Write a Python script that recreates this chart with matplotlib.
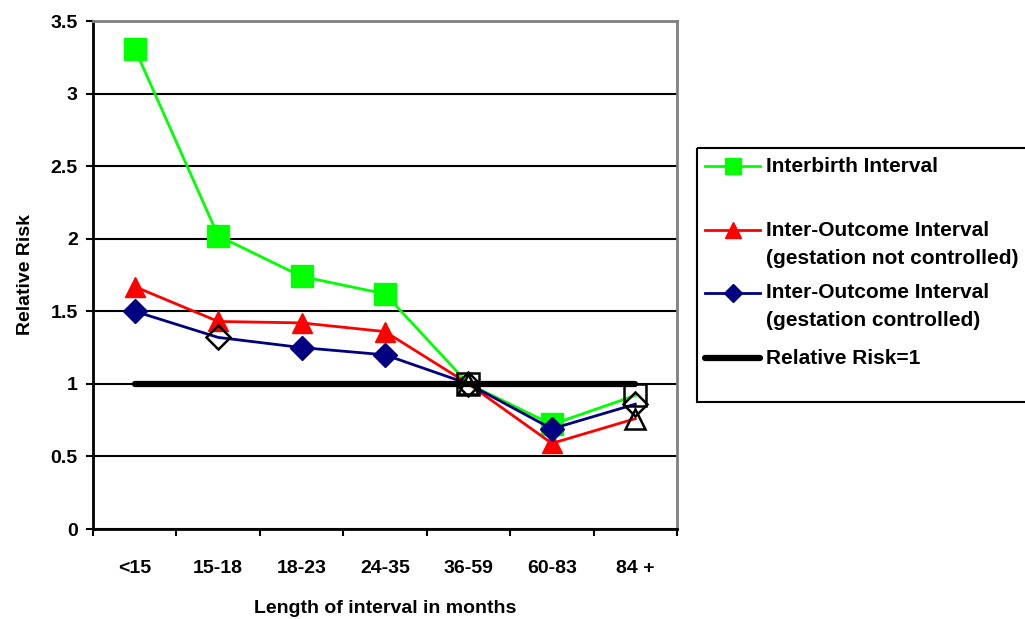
import matplotlib.pyplot as plt
from matplotlib.patches import Rectangle
import numpy as np

plt.rcParams['font.family'] = ['Liberation Sans', 'DejaVu Sans']
plt.rcParams['font.weight'] = 'bold'
plt.rcParams['axes.labelweight'] = 'bold'

categories = ['<15', '15-18', '18-23', '24-35', '36-59', '60-83', '84 +']
interbirth = [3.31, 2.02, 1.74, 1.62, 1.00, 0.72, 0.92]
outcome_not_ctrl = [1.67, 1.43, 1.42, 1.36, 1.00, 0.59, 0.76]
outcome_ctrl = [1.50, 1.32, 1.25, 1.20, 1.00, 0.69, 0.86]
reference = [1, 1, 1, 1, 1, 1, 1]

# which points were drawn as open (not significant) markers
hollow_green = [False, False, False, False, True, False, True]
hollow_red = [False, False, False, False, True, False, True]
hollow_blue = [False, True, False, False, True, False, True]

labels = [['Interbirth Interval'],
          ['Inter-Outcome Interval', '(gestation not controlled)'],
          ['Inter-Outcome Interval', '(gestation controlled)'],
          ['Relative Risk=1']]
colors = ['#00FF00', '#FF0000', '#000080', 'black']
markers = ['s', '^', 'D', None]
sizes = [16, 15, 12, 0]

x = np.arange(len(categories))

fig = plt.figure(figsize=(10.25, 6.19), dpi=100)
ax = fig.add_axes([93/1025, 1-529/619, 584/1025, 508/619])

def draw(vals, hollow, color, marker, ms):
    vals = np.array(vals)
    hollow = np.array(hollow)
    ax.plot(x, vals, color=color, lw=2, marker=marker, ms=ms,
            markevery=list(np.where(~hollow)[0]), mfc=color, mec=color,
            zorder=3)
    ax.plot(x[hollow], vals[hollow], ls='none', marker=marker, ms=ms,
            mfc='none', mec='black', mew=1.8, zorder=4)

draw(interbirth, hollow_green, colors[0], markers[0], sizes[0])
draw(outcome_not_ctrl, hollow_red, colors[1], markers[1], sizes[1])
draw(outcome_ctrl, hollow_blue, colors[2], markers[2], sizes[2])
ax.plot(x, reference, color='black', lw=4.5, solid_capstyle='round', zorder=3.5)

ax.set_xlim(-0.5, len(categories) - 0.5)
ax.set_ylim(0, 3.5)
ax.set_yticks(np.arange(0, 3.51, 0.5))
ax.set_yticklabels(['0', '0.5', '1', '1.5', '2', '2.5', '3', '3.5'], fontsize=14)
ax.set_xticks(x)
ax.set_xticklabels(categories, fontsize=14)
ax.set_xticks(np.arange(-0.5, len(categories)), minor=True)
ax.tick_params(axis='x', which='major', length=0, pad=22)
ax.tick_params(axis='x', which='minor', length=5, width=1.5, direction='out')
ax.tick_params(axis='y', length=5, width=1.5, direction='out', pad=6)
ax.yaxis.grid(True, color='black', lw=1.5)
ax.set_axisbelow(True)

for s in ['top', 'right']:
    ax.spines[s].set_color('#808080')
    ax.spines[s].set_linewidth(2)
for s in ['left', 'bottom']:
    ax.spines[s].set_linewidth(2)

ax.set_xlabel('Length of interval in months', fontsize=14, labelpad=17)
ax.set_ylabel('Relative Risk', fontsize=14, labelpad=12)

# legend box drawn by hand so handles sit on the first text line
lax = fig.add_axes([0, 0, 1, 1])
lax.set_xlim(0, 1025)
lax.set_ylim(619, 0)
lax.axis('off')
lax.add_patch(Rectangle((697, 148), 340, 254, fill=False, ec='black', lw=1.5))
rows = [166, 230, 293, 358]
for lines, c, m, ms, yy in zip(labels, colors, markers, sizes, rows):
    if m is None:
        lax.plot([705, 760], [yy, yy], color=c, lw=4.5, solid_capstyle='round')
    else:
        lax.plot([705, 760], [yy, yy], color=c, lw=2)
        lax.plot([733], [yy], ls='none', marker=m, ms=ms * 0.75, color=c)
    for i, line in enumerate(lines):
        lax.text(766, yy + 28 * i, line, fontsize=15, va='center', ha='left')

fig.savefig('out.png', dpi=100)
